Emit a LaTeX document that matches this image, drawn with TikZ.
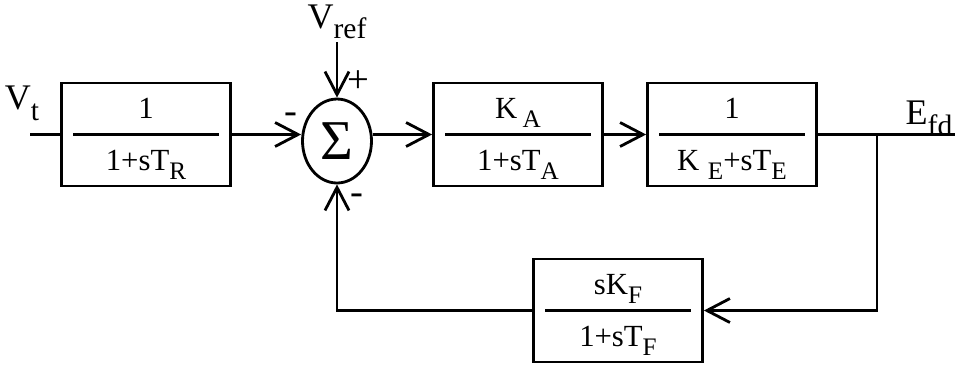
\documentclass[tikz,border=0pt]{standalone}
\usepackage{fontspec}
\setmainfont{Liberation Serif}
\usepackage{graphicx}
\usetikzlibrary{arrows.meta,shapes.geometric}
\newcommand{\sbs}[1]{\raisebox{-0.3em}{\scalebox{0.82}{#1}}}
\begin{document}
\begin{tikzpicture}[x=0.02cm,y=-0.02cm,line width=1.6pt,>={Straight Barb[length=0.46cm,width=0.48cm]},font=\fontsize{17.5}{20}\selectfont,
	blk/.style={draw,minimum width=3.38cm,minimum height=2.06cm,inner sep=0pt,
		path picture={\draw ([xshift=-1.46cm]path picture bounding box.center)--([xshift=1.46cm]path picture bounding box.center);}},
	num/.style={anchor=base,yshift=0.33cm},
	den/.style={anchor=base,yshift=-0.72cm},
	lbl/.style={font=\fontsize{20.5}{24}\selectfont},
	sgn/.style={font=\fontsize{22}{24}\selectfont,inner sep=0pt}]
				\useasboundingbox (0,0) rectangle (960,370);
				\node[lbl] (vt) at (22,103) {V\sbs{t}};
				\coordinate (vin) at (30,134.5);
				\node[blk] (TR) at (146,134.5) {};
				\node[num] (TRn) at (TR) {1};
				\node[den] (TRd) at (TR) {1+sT\sbs{R}};
				\node[draw,ellipse,minimum width=1.38cm,minimum height=1.68cm,inner sep=0pt,font=\fontsize{32}{32}\selectfont] (sum) at (337,141) {Σ};
				\node[lbl,anchor=base,inner sep=1pt] (vref) at (337,28) {V\sbs{ref}};
				\node[blk] (KA) at (518,134.5) {};
				\node[num] (KAn) at (KA) {K\,\sbs{A}};
				\node[den] (KAd) at (KA) {1+sT\sbs{A}};
				\node[blk] (KE) at (732,134.5) {};
				\node[num] (KEn) at (KE) {1};
				\node[den] (KEd) at (KE) {K\;\sbs{E}+sT\sbs{E}};
				\node[lbl] (efd) at (929,118) {E\sbs{fd}};
				\coordinate (br) at (877,134.5);
				\coordinate (out) at (955,134.5);
				\node[blk] (F) at (618,310.5) {};
				\node[num] (Fn) at (F) {sK\sbs{F}};
				\node[den] (Fd) at (F) {1+sT\sbs{F}};
				% signs at the summing point
				\node[sgn] (m1) at (291,118) {-};
				\node[sgn] (p1) at (358,82) {+};
				\node[sgn] (m2) at (357,199) {-};
				\draw (vin) -- (TR.west);
				\draw[->] (TR.east) -- (TR.east -| sum.west);
				\draw[->] (vref.south -| sum.north) -- (sum.north);
				\draw[->] (sum.east |- KA.west) -- (KA.west);
				\draw[->] (KA.east) -- (KE.west);
				\draw (KE.east) -- (out);
				\draw[->] (br) |- (F.east);
				\draw[->] (F.west) -| (sum.south);
			\end{tikzpicture}
\end{document}
